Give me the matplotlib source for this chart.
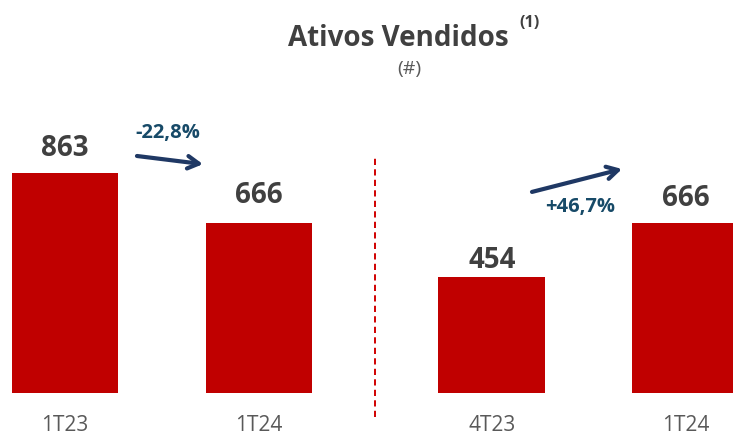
import matplotlib
matplotlib.use("Agg")
import matplotlib.pyplot as plt

# data
categories = ["1T23", "1T24", "4T23", "1T24"]
values = [863, 666, 454, 666]
positions = [0, 1, 2.2, 3.2]
changes = ["-22,8%", "+46,7%"]

red = "#C00000"
gray = "#404040"
navy = "#1F3864"
teal = "#174A68"

plt.rcParams['font.family'] = ['Open Sans', 'DejaVu Sans']

fig = plt.figure(figsize=(7.33, 4.39), dpi=100)
ax = fig.add_axes([0, 45 / 439, 1, 394 / 439])

bars = ax.bar(positions, values, width=0.55, color=red)
label_gap = [11, 14, 3, 11]  # pixels above each bar
for b, v, g in zip(bars, values, label_gap):
    ax.annotate(str(v), (b.get_x() + b.get_width() / 2, v), xytext=(0, g),
                textcoords='offset pixels', ha='center', va='bottom',
                fontsize=20, fontweight='bold', color=gray)

ax.set_xlim(-0.335, 3.443)
ax.set_ylim(0, 1546)
for s in ax.spines.values():
    s.set_visible(False)
ax.set_yticks([])
ax.set_xticks(positions)
ax.set_xticklabels(categories, fontsize=15, color="#595959")
ax.tick_params(axis='x', length=0, pad=15)

# separator
sep = (positions[1] + positions[2]) / 2
ax.plot([sep, sep], [-94, 926], color="#D00000", lw=1.4, ls=(0, (3.2, 2.2)), clip_on=False)

# arrows
arrow = dict(arrowstyle='->,head_length=0.8,head_width=0.45', lw=3, color=navy,
             shrinkA=0, shrinkB=0)
ax.annotate("", xy=(0.711, 898), xytext=(0.371, 930), arrowprops=arrow)
ax.annotate("", xy=(2.871, 879), xytext=(2.407, 789), arrowprops=arrow)
ax.text(0.531, 1024, changes[0], ha='center', va='center', fontsize=14.5,
        fontweight='bold', color=teal)
ax.text(2.655, 734, changes[1], ha='center', va='center', fontsize=14.5,
        fontweight='bold', color=teal)

# title
fig.text(0.544, 0.913, "Ativos Vendidos", ha='center', va='center', fontsize=20,
         fontweight='bold', color=gray)
fig.text(0.723, 0.947, "(1)", ha='center', va='center', fontsize=11.5,
         fontweight='bold', color=gray)
fig.text(0.559, 0.843, "(#)", ha='center', va='center', fontsize=14, color="#595959")

fig.savefig("out.png", dpi=100)
